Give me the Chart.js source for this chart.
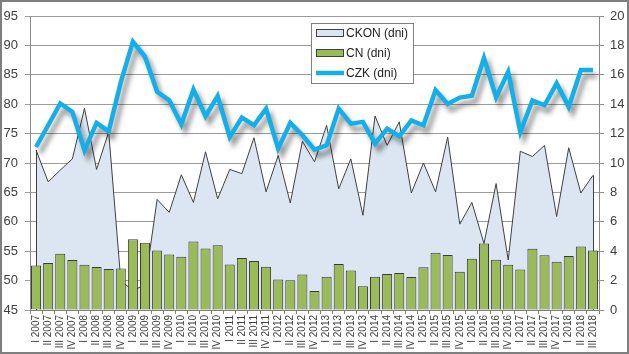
<!DOCTYPE html>
<html>
<head>
<meta charset="utf-8">
<script src="https://cdn.jsdelivr.net/npm/chart.js@4.4.0/dist/chart.umd.min.js"></script>
<style>
  html, body { margin: 0; padding: 0; background: #fff; }
  #wrap { width: 629px; height: 354px; }
</style>
</head>
<body>
<div id="wrap"><canvas id="chart" width="629" height="354"></canvas></div>
<script>
const quarterLabels = [
  "I 2007", "II 2007", "III 2007", "IV 2007",
  "I 2008", "II 2008", "III 2008", "IV 2008",
  "I 2009", "II 2009", "III 2009", "IV 2009",
  "I 2010", "II 2010", "III 2010", "IV 2010",
  "I 2011", "II 2011", "III 2011", "IV 2011",
  "I 2012", "II 2012", "III 2012", "IV 2012",
  "I 2013", "II 2013", "III 2013", "IV 2013",
  "I 2014", "II 2014", "III 2014", "IV 2014",
  "I 2015", "II 2015", "III 2015", "IV 2015",
  "I 2016", "II 2016", "III 2016", "IV 2016",
  "I 2017", "II 2017", "III 2017", "IV 2017",
  "I 2018", "II 2018", "III 2018"
];

// CKON (dni) - left axis
const ckon = [
  72.2, 66.8, 68.8, 70.7, 79.3, 68.9, 75.3, 50.0,
  48.3, 49.3, 63.8, 61.6, 68.0, 63.3, 71.9, 63.9,
  68.9, 68.2, 74.3, 65.1, 71.3, 63.2, 73.7, 70.2,
  76.4, 65.6, 70.7, 61.1, 78.0, 73.0, 77.0, 64.9,
  70.0, 65.1, 74.4, 59.6, 63.3, 56.3, 66.5, 53.5,
  72.0, 71.1, 73.0, 60.9, 72.6, 64.9, 67.9
];

// CN (dni) - right axis
const cn = [
  3.02, 3.2, 3.83, 3.4, 3.07, 2.93, 2.79, 2.82,
  4.81, 4.57, 4.04, 3.77, 3.63, 4.66, 4.18, 4.4,
  3.09, 3.54, 3.34, 2.95, 2.07, 2.02, 2.41, 1.3,
  2.27, 3.13, 2.68, 1.61, 2.27, 2.45, 2.52, 2.25,
  2.9, 3.89, 3.75, 2.61, 3.48, 4.52, 3.41, 3.07,
  2.75, 4.16, 3.72, 3.29, 3.68, 4.32, 4.04
];

// CZK (dni) - right axis
const czk = [
  11.09, 12.57, 14.05, 13.48, 10.86, 12.73, 12.15, 15.5,
  18.25, 17.23, 14.84, 14.27, 12.64, 15.0, 13.18, 14.55,
  11.77, 13.09, 12.57, 13.7, 10.98, 12.73, 11.89, 10.91,
  11.2, 13.7, 12.68, 12.8, 11.32, 12.34, 11.82, 12.9,
  12.57, 14.95, 14.02, 14.45, 14.58, 17.14, 14.47, 16.2,
  12.11, 14.25, 13.93, 15.42, 13.82, 16.33, 16.33
];

const FONT = "'Liberation Sans', Arial, sans-serif";
const TEXT = "#404040";

// gray drop shadow under the CZK line
const lineShadow = {
  id: "lineShadow",
  beforeDatasetDraw(chart, args) {
    if (args.index !== 0) return;
    const c = chart.ctx;
    c.save();
    c.shadowColor = "rgba(0,0,0,0.42)";
    c.shadowBlur = 5;
    c.shadowOffsetX = 4;
    c.shadowOffsetY = 6;
  },
  afterDatasetDraw(chart, args) {
    if (args.index !== 0) return;
    chart.ctx.restore();
  }
};

// vertical edges of the CKON area, like the Excel outline
const areaEdges = {
  id: "areaEdges",
  afterDatasetDraw(chart, args) {
    if (args.index !== 2) return;
    const pts = args.meta.data;
    const c = chart.ctx;
    const bottom = chart.chartArea.bottom;
    c.save();
    c.strokeStyle = "#404040";
    c.lineWidth = 1;
    [pts[0], pts[pts.length - 1]].forEach(p => {
      c.beginPath();
      c.moveTo(Math.round(p.x) + 0.5, p.y);
      c.lineTo(Math.round(p.x) + 0.5, bottom);
      c.stroke();
    });
    c.restore();
  }
};

// legend box inside the plot
const boxLegend = {
  id: "boxLegend",
  afterDraw(chart) {
    const c = chart.ctx;
    const x = 311, y = 23, w = 102, h = 60;
    c.save();
    c.fillStyle = "#ffffff";
    c.fillRect(x, y, w, h);
    c.strokeStyle = "#808080";
    c.lineWidth = 1;
    c.strokeRect(x + 0.5, y + 0.5, w, h);
    c.font = "12px " + FONT;
    c.textBaseline = "middle";
    const order = [2, 1, 0];
    order.forEach((di, k) => {
      const ds = chart.data.datasets[di];
      const cy = y + 10 + k * 20;
      if (ds.type === "line" && ds.fill === false) {
        c.strokeStyle = ds.borderColor;
        c.lineWidth = 4.5;
        c.beginPath();
        c.moveTo(x + 5, cy);
        c.lineTo(x + 33, cy);
        c.stroke();
      } else {
        c.fillStyle = ds.backgroundColor;
        c.fillRect(x + 5, cy - 4, 28, 8);
        c.strokeStyle = "#404040";
        c.lineWidth = 1;
        c.strokeRect(x + 5.5, cy - 3.5, 27, 7);
      }
      c.fillStyle = "#222";
      c.textAlign = "left";
      c.fillText(ds.label, x + 35, cy + 1);
    });
    c.restore();
  }
};

// outer frame of the picture
const frame = {
  id: "frame",
  afterDraw(chart) {
    const c = chart.ctx;
    c.save();
    c.strokeStyle = "#7f7f7f";
    c.lineWidth = 2;
    c.strokeRect(1, 1, chart.width - 2, chart.height - 2);
    c.restore();
  }
};

const ctx = document.getElementById("chart").getContext("2d");
new Chart(ctx, {
  type: "bar",
  data: {
    labels: quarterLabels,
    datasets: [
      {
        type: "line",
        label: "CZK (dni)",
        data: czk,
        yAxisID: "y1",
        borderColor: "#14AFE9",
        borderWidth: 4.5,
        pointRadius: 0,
        fill: false,
        tension: 0,
        borderJoinStyle: "miter",
        order: 0
      },
      {
        type: "bar",
        label: "CN (dni)",
        data: cn,
        yAxisID: "y1",
        backgroundColor: "#9BBB59",
        borderColor: "#3a3a3a",
        borderWidth: 1,
        barPercentage: 0.83,
        categoryPercentage: 1,
        order: 1
      },
      {
        type: "line",
        label: "CKON (dni)",
        data: ckon,
        yAxisID: "y",
        backgroundColor: "#DCE6F2",
        borderColor: "#404040",
        borderWidth: 1,
        pointRadius: 0,
        fill: "start",
        tension: 0,
        order: 2
      }
    ]
  },
  options: {
    responsive: false,
    animation: false,
    layout: { padding: { top: 16, left: 0, right: 0, bottom: 0 } },
    plugins: {
      legend: { display: false },
      tooltip: { enabled: false }
    },
    scales: {
      x: {
        offset: true,
        grid: { display: true, drawOnChartArea: false, offset: true, tickLength: 4, color: "#7f7f7f" },
        border: { color: "#7f7f7f" },
        ticks: {
          autoSkip: false,
          minRotation: 90,
          maxRotation: 90,
          padding: 1,
          color: TEXT,
          font: { family: FONT, size: 10 }
        },
        afterFit(scale) { scale.height = 44; }
      },
      y: {
        position: "left",
        min: 45,
        max: 95,
        ticks: { stepSize: 5, padding: 7, color: TEXT, font: { family: FONT, size: 13 } },
        grid: { color: "#9c9c9c", tickLength: 5 },
        border: { color: "#8a8a8a" },
        afterFit(scale) { scale.width = 30; }
      },
      y1: {
        position: "right",
        min: 0,
        max: 20,
        ticks: { stepSize: 2, padding: 6, color: TEXT, font: { family: FONT, size: 13 } },
        grid: { drawOnChartArea: false, tickLength: 5, color: "#8a8a8a" },
        border: { color: "#8a8a8a" },
        afterFit(scale) { scale.width = 30; }
      }
    }
  },
  plugins: [lineShadow, areaEdges, boxLegend, frame]
});
</script>
</body>
</html>
